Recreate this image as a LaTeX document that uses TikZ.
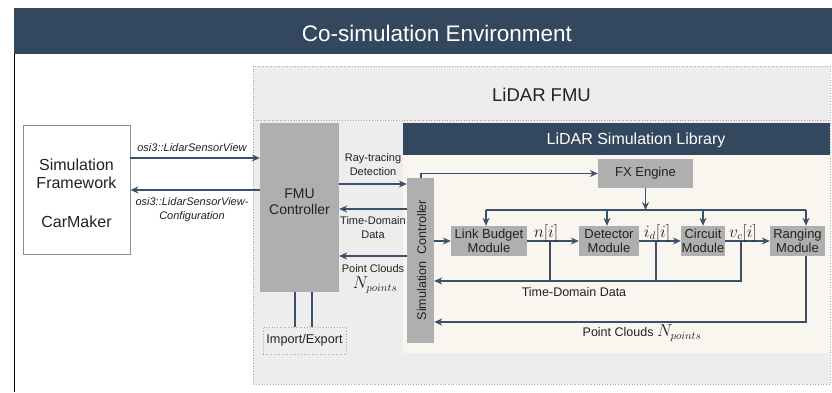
\documentclass[tikz,border=0pt]{standalone}
\usepackage{fontspec}
\setmainfont{Liberation Sans}
\usetikzlibrary{arrows.meta}

\definecolor{navy}{HTML}{33475E}
\definecolor{boxgray}{HTML}{AFAFAF}
\definecolor{fmubg}{HTML}{EDEDED}
\definecolor{libbg}{HTML}{F8F6EE}
\definecolor{linec}{HTML}{3C5069}
\definecolor{txt}{HTML}{222222}
\definecolor{dotc}{HTML}{A8A8A8}

\tikzset{
  modbox/.style={fill=boxgray, draw=none, inner sep=0pt, align=center,
    text=txt, font=\fontsize{13}{14.3}\selectfont},
  arr/.style={draw=linec, line width=1.2pt, -{Stealth[length=8pt,width=7pt]}},
  ln/.style={draw=linec, line width=1.2pt},
  lbl/.style={font=\fontsize{11}{14}\selectfont, text=txt, align=center, inner sep=0pt},
  osilbl/.style={font=\fontsize{11}{14}\selectfont\itshape, text=txt, align=center, inner sep=0pt},
  biglbl/.style={font=\fontsize{12.5}{15}\selectfont, text=txt, inner sep=0pt},
  mathlbl/.style={font=\fontsize{16}{18}\selectfont, text=txt, inner sep=0pt},
}

\begin{document}
\begin{tikzpicture}[x=1pt, y=-1pt]
  \useasboundingbox (0,0) rectangle (832,392);
  \fill[white] (0,0) rectangle (832,392);

  % environment banner and frame
  \fill[navy] (14,8) rectangle (832,54);
  \node[text=white, font=\fontsize{22.5}{24}\selectfont, inner sep=0pt] (envtitle) at (437,33) {Co-simulation Environment};
  \draw[black, line width=1.5pt] (14.5,54) -- (14.5,392);

  % LiDAR FMU container
  \fill[fmubg] (253,66) rectangle (830,384);
  \draw[dotc, line width=0.7pt, dotted] (253,66) rectangle (830,384);
  \draw[dotc, line width=0.7pt, dotted] (253,120) -- (830,120);
  \node[text=txt, font=\fontsize{18.5}{20}\selectfont, inner sep=0pt] (fmutitle) at (541.5,94.5) {LiDAR FMU};

  % simulation library panel
  \fill[libbg] (403,123) rectangle (830,353);
  \fill[navy] (403,123) rectangle (830,155);
  \node[text=white, font=\fontsize{16}{18}\selectfont, inner sep=0pt] (libtitle) at (636,140) {LiDAR Simulation Library};

  % simulation framework
  \node[draw=gray!90, line width=0.9pt, fill=white, minimum width=107pt, minimum height=129pt, inner sep=0pt] (sf) at (76.5,189.5) {};
  \node[text=txt, font=\fontsize{16}{18}\selectfont, align=center, inner sep=0pt] (sft) at (76.5,193.5) {Simulation\\Framework\\[21pt]CarMaker};

  % FMU controller and import/export
  \node[fill=boxgray, minimum width=79pt, minimum height=169pt, inner sep=0pt] (fmu) at (299.5,207.5) {};
  \node[text=txt, font=\fontsize{14}{16}\selectfont, align=center, inner sep=0pt] (fmut) at (299.5,202) {FMU\\Controller};
  \node[draw=dotc, line width=0.7pt, dotted, fill=fmubg, minimum width=83pt, minimum height=27pt, inner sep=0pt,
        text=txt, font=\fontsize{12.7}{14}\selectfont] (imp) at (304.5,340.5) {Import/Export};

  % simulation controller
  \node[fill=boxgray, minimum width=27pt, minimum height=165pt, inner sep=0pt] (simc) at (420.5,260.5) {};
  \node[rotate=90, text=txt, font=\fontsize{12.6}{14}\selectfont, inner sep=0pt] (simct) at (421.5,260) {Simulation\ \ Controller};

  % processing modules
  \node[modbox, minimum width=95pt, minimum height=29pt] (fx) at (645.5,173.5) {FX Engine};
  \node[modbox, minimum width=76pt, minimum height=30pt] (lb) at (489,241) {Link Budget\\Module};
  \node[modbox, minimum width=60pt, minimum height=30pt] (det) at (609,241) {Detector\\Module};
  \node[modbox, minimum width=44pt, minimum height=30pt] (cir) at (703,241) {Circuit\\Module};
  \node[modbox, minimum width=55pt, minimum height=30pt] (rng) at (797.5,241) {Ranging\\Module};

  % framework <-> FMU controller
  \draw[arr] (sf.east |- 0,158) -- (fmu.west |- 0,158);
  \draw[arr] (fmu.west |- 0,190) -- (sf.east |- 0,190);
  \node[osilbl] (osiv) at (192,148) {osi3::LidarSensorView};
  \node[osilbl] (osic) at (192,210) {osi3::LidarSensorView-\\Configuration};

  % FMU controller <-> simulation controller
  \draw[arr] (fmu.east |- 0,184) -- (simc.west |- 0,184);
  \draw[arr] (simc.west |- 0,209) -- (fmu.east |- 0,209);
  \draw[arr] (simc.west |- 0,256) -- (fmu.east |- 0,256);
  \node[lbl] (rtl) at (373,164.5) {Ray-tracing\\Detection};
  \node[lbl] (tdl) at (373,227.5) {Time-Domain\\Data};
  \node[lbl] (pcl) at (373,269) {Point Clouds};
  \node[mathlbl] (pcn) at (375,285) {$N_{points}$};

  % import/export links
  \draw[ln, line width=1.5pt] (fmu.south -| 295,0) -- (imp.north -| 295,0);
  \draw[ln, line width=1.5pt] (fmu.south -| 312,0) -- (imp.north -| 312,0);

  % simulation controller -> FX engine
  \draw[arr] (simc.north -| 421,0) |- (fx.west);

  % FX engine broadcast bus
  \coordinate (bus) at (645.5,210);
  \draw[arr] (fx.south) -- (bus);
  \draw[ln] (486,210) -- (806,210);
  \draw[arr] (486,210) -- (lb.north -| 486,0);
  \draw[arr] (607,210) -- (det.north -| 607,0);
  \draw[arr] (703,210) -- (cir.north -| 703,0);
  \draw[arr] (806,210) -- (rng.north -| 806,0);

  % module chain
  \draw[arr] (simc.east |- lb.west) -- (lb.west);
  \draw[arr] (lb.east) -- (det.west);
  \draw[arr] (det.east) -- (cir.west);
  \draw[arr] (cir.east) -- (rng.west);
  \node[mathlbl] (nl) at (546,233) {$n[i]$};
  \node[mathlbl] (idl) at (657,233) {$i_d[i]$};
  \node[mathlbl] (vcl) at (743,233) {$v_c[i]$};

  % time-domain feedback
  \coordinate (t1) at (550,241);
  \coordinate (t2) at (656,241);
  \coordinate (t3) at (741,241);
  \draw[ln] (t1) -- (550,281);
  \draw[ln] (t2) -- (656,281);
  \draw[arr] (t3) -- (741,281) -- (simc.east |- 0,281);
  \node[biglbl] (tdb) at (574,292) {Time-Domain Data};

  % point cloud return
  \draw[arr] (rng.south -| 806,0) |- (simc.east |- 0,322);
  \node[biglbl] (pcb) at (642,333) {Point Clouds \fontsize{16}{18}\selectfont$N_{points}$};
\end{tikzpicture}
\end{document}
